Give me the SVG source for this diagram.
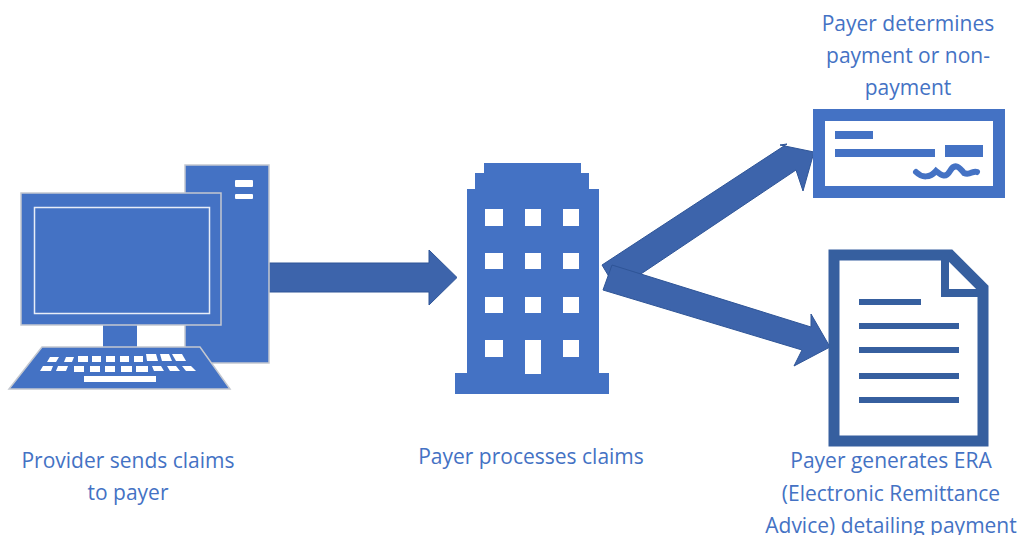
<svg xmlns="http://www.w3.org/2000/svg" width="1036" height="535" viewBox="0 0 1036 535">
<style>
.i{fill:#4472c4}
.o{fill:#4472c4;stroke:#c4c8d0;stroke-width:1.5}
.w{fill:#fff}
.d{fill:#365f9f}
.a{fill:#3d64ab;stroke:#2f5597;stroke-width:1}
.t{font-family:"Open Sans","Noto Sans",sans-serif;font-size:21px;fill:#4472c4;text-anchor:middle}
</style>
<rect width="1036" height="535" fill="#fff"/>
<g id="connectors">
<polygon class="a" points="269,263 429,263 429,250 457,277.500 429,305 429,292 269,292"/>
<polygon class="a" points="602,265 787,144 780,145 814,152 803,191 796,170 617,290"/>
<polygon class="a" points="612,265 811,327 811,314 830,347 794,366 802,350 603,290"/>
</g>
<g id="computer">
<rect class="o" x="185" y="165" width="84" height="198"/>
<rect class="w" x="235" y="180" width="18" height="7" rx="1"/>
<rect class="w" x="235" y="194" width="18" height="5" rx="1"/>
<rect class="i" x="103" y="325" width="34" height="24"/>
<rect class="o" x="21" y="193" width="200" height="132"/>
<rect x="34.500" y="207.500" width="175" height="106" fill="none" stroke="#e8edf7" stroke-width="1.500"/>
<polygon class="o" points="42,347 200,347 230,389 9,389"/>
<g class="w">
<polygon points="50,357 59,357 56,362 47,362"/><polygon points="66,357 74,357 72,362 64,362"/><rect x="78" y="356" width="10" height="6"/><rect x="92" y="356" width="9" height="6"/><rect x="106" y="356" width="9" height="6"/><rect x="120" y="356" width="9" height="6"/><rect x="134" y="356" width="9" height="6"/><polygon points="146,354 156,354 158,361 147,361"/><polygon points="160,354 169,354 172,361 162,361"/><polygon points="172,354 182,354 186,361 176,361"/>
<polygon points="43,366 53,366 51,371 40,371"/><polygon points="58,366 68,366 66,371 56,371"/><rect x="74" y="366" width="10" height="6"/><rect x="90" y="366" width="10" height="6"/><rect x="105" y="366" width="10" height="6"/><rect x="121" y="366" width="11" height="6"/><rect x="136" y="366" width="12" height="6"/><polygon points="152,366 161,366 164,371 154,371"/><polygon points="167,366 176,366 180,371 170,371"/><polygon points="182,366 191,366 196,371 186,371"/>
<rect x="84" y="376" width="72" height="6"/>
</g>
</g>
<g id="building">
<polygon class="i" points="484,163 581,163 581,173 589,173 589,189 599,189 599,373 609,373 609,394 455,394 455,373 467,373 467,189 475,189 475,173 484,173"/>
<g class="w">
<rect x="485" y="209" width="18" height="17"/><rect x="525" y="209" width="16" height="17"/><rect x="563" y="209" width="16" height="17"/>
<rect x="485" y="253" width="18" height="16"/><rect x="525" y="253" width="16" height="16"/><rect x="563" y="253" width="16" height="16"/>
<rect x="485" y="297" width="18" height="16"/><rect x="525" y="297" width="16" height="16"/><rect x="563" y="297" width="16" height="16"/>
<rect x="485" y="340" width="18" height="17"/><rect x="525" y="340" width="16" height="34"/><rect x="563" y="340" width="16" height="17"/>
</g>
</g>
<g id="check">
<rect x="819" y="115" width="180" height="77" fill="#fff" stroke="#4472c4" stroke-width="12"/>
<rect class="i" x="835" y="131" width="38" height="8"/>
<rect class="i" x="835" y="149" width="100" height="8"/>
<rect class="i" x="945" y="145" width="38" height="12"/>
<path d="M916 172C922 178 930 178 936 171C942 176 946 178 950 171C955 162 960 168 964 173C970 176 973 170 977 172" fill="none" stroke="#4472c4" stroke-width="6" stroke-linecap="round"/>
</g>
<g id="document">
<path d="M834 255H950L983 288V441H834Z" fill="#fff" stroke="#365f9f" stroke-width="11"/>
<path d="M945 259V293H979" fill="none" stroke="#365f9f" stroke-width="8"/>
<g class="d">
<rect x="859" y="299" width="62" height="6"/><rect x="859" y="323" width="100" height="6"/><rect x="859" y="347" width="100" height="6"/><rect x="859" y="373" width="100" height="6"/><rect x="859" y="397" width="100" height="6"/>
</g>
</g>
<g id="labels">
<text class="t" x="128" y="468">Provider sends claims</text>
<text class="t" x="128" y="500">to payer</text>
<text class="t" x="531" y="464">Payer processes claims</text>
<text class="t" x="908" y="31">Payer determines</text>
<text class="t" x="908" y="63">payment or non-</text>
<text class="t" x="908" y="95">payment</text>
<text class="t" x="891" y="468">Payer generates ERA</text>
<text class="t" x="891" y="501">(Electronic Remittance</text>
<text class="t" x="891" y="533">Advice) detailing payment</text>
</g>
</svg>
